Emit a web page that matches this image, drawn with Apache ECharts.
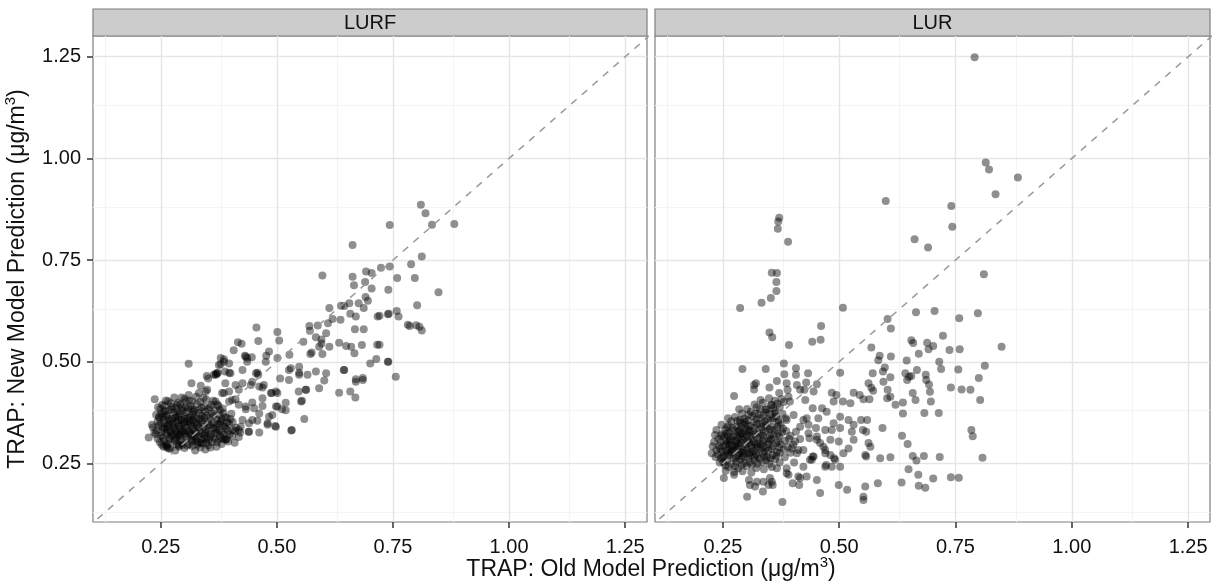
<!DOCTYPE html>
<html>
<head>
<meta charset="utf-8">
<title>TRAP: Old vs New Model Prediction</title>
<script src="https://cdn.jsdelivr.net/npm/echarts@6/dist/echarts.min.js"></script>
<style>
  html, body { margin: 0; padding: 0; background: #fff; }
  #chart { width: 1212px; height: 587px; }
</style>
</head>
<body>
<div id="chart"></div>
<script>
// Facet names, left to right
const panelNames = ['LURF', 'LUR'];

// Axis breaks (shared by x and y) and minor grid positions
const tickValues = [0.25, 0.50, 0.75, 1.00, 1.25];
const minorValues = [0.125, 0.375, 0.625, 0.875, 1.125];

// Common limits of both panels
const xRange = [0.104, 1.297];
const yRange = [0.106, 1.301];

// LURF: [old model prediction, new model prediction]
const lurfPoints = [
  [0.810,0.886],[0.820,0.865],[0.743,0.836],[0.834,0.837],[0.882,0.839],[0.812,0.759],[0.789,0.740],[0.724,0.731],
  [0.743,0.734],[0.759,0.706],[0.797,0.706],[0.740,0.677],[0.848,0.671],[0.802,0.639],[0.741,0.618],[0.758,0.625],
  [0.762,0.611],[0.721,0.613],[0.782,0.591],[0.786,0.588],[0.800,0.590],[0.807,0.586],[0.812,0.577],[0.721,0.542],
  [0.740,0.500],[0.756,0.463],[0.663,0.787],[0.598,0.712],[0.692,0.722],[0.704,0.718],[0.663,0.709],[0.666,0.688],
  [0.690,0.696],[0.704,0.680],[0.691,0.659],[0.696,0.650],[0.676,0.644],[0.645,0.637],[0.656,0.644],[0.638,0.638],
  [0.613,0.632],[0.687,0.632],[0.658,0.618],[0.670,0.611],[0.717,0.611],[0.739,0.617],[0.620,0.605],[0.637,0.603],
  [0.610,0.595],[0.570,0.588],[0.588,0.589],[0.668,0.580],[0.687,0.580],[0.571,0.576],[0.606,0.570],[0.584,0.560],
  [0.596,0.555],[0.596,0.545],[0.613,0.537],[0.591,0.537],[0.557,0.549],[0.634,0.547],[0.649,0.539],[0.660,0.537],
  [0.683,0.541],[0.716,0.542],[0.667,0.521],[0.598,0.519],[0.572,0.519],[0.575,0.523],[0.701,0.496],[0.714,0.507],
  [0.645,0.480],[0.739,0.500],[0.527,0.517],[0.501,0.573],[0.505,0.552],[0.456,0.584],[0.460,0.551],[0.416,0.548],
  [0.424,0.544],[0.407,0.528],[0.483,0.525],[0.477,0.515],[0.431,0.515],[0.436,0.509],[0.446,0.511],[0.501,0.509],
  [0.386,0.506],[0.379,0.494],[0.397,0.496],[0.310,0.495],[0.372,0.473],[0.388,0.476],[0.426,0.480],[0.458,0.473],
  [0.476,0.500],[0.526,0.480],[0.548,0.473],[0.584,0.476],[0.606,0.472],[0.685,0.460],[0.670,0.457],[0.349,0.465],
  [0.368,0.470],[0.316,0.447],[0.336,0.441],[0.352,0.459],[0.369,0.468],[0.400,0.472],[0.389,0.447],[0.411,0.443],
  [0.426,0.447],[0.444,0.443],[0.460,0.468],[0.469,0.437],[0.489,0.423],[0.501,0.423],[0.507,0.459],[0.526,0.455],
  [0.530,0.484],[0.548,0.488],[0.548,0.468],[0.566,0.468],[0.563,0.431],[0.547,0.427],[0.602,0.454],[0.591,0.435],
  [0.644,0.480],[0.670,0.451],[0.685,0.455],[0.634,0.424],[0.658,0.427],[0.669,0.412],[0.552,0.402],[0.559,0.359],
  [0.531,0.331],[0.519,0.399],[0.511,0.383],[0.498,0.390],[0.490,0.369],[0.496,0.342],[0.480,0.345],[0.458,0.355],
  [0.447,0.357],[0.469,0.391],[0.447,0.400],[0.433,0.383],[0.462,0.373],[0.439,0.328],[0.422,0.340],[0.400,0.359],
  [0.405,0.332],[0.388,0.309],[0.375,0.309],[0.237,0.408],[0.224,0.314],[0.233,0.339],[0.264,0.289],[0.296,0.296],
  [0.332,0.300],[0.354,0.309],[0.318,0.304],[0.411,0.408],[0.397,0.402],[0.382,0.423],[0.368,0.402],[0.350,0.431],
  [0.332,0.423],[0.310,0.418],[0.303,0.402],[0.285,0.394],[0.271,0.398],[0.253,0.394],[0.246,0.365],[0.256,0.377],
  [0.379,0.509],[0.386,0.500],[0.433,0.513],[0.436,0.500],[0.375,0.492],[0.397,0.473],[0.364,0.468],[0.372,0.472],
  [0.347,0.427],[0.386,0.423],[0.397,0.427],[0.418,0.431],[0.447,0.451],[0.462,0.439],[0.472,0.443],[0.455,0.472],
  [0.487,0.423],[0.498,0.427],[0.469,0.410],[0.433,0.390],[0.451,0.386],[0.418,0.394],[0.404,0.406],[0.426,0.357],
  [0.440,0.349],[0.480,0.349],[0.498,0.340],[0.483,0.365],[0.501,0.390],[0.519,0.381],[0.418,0.332],[0.440,0.328],
  [0.462,0.326],[0.532,0.332],[0.554,0.404],[0.562,0.431],[0.390,0.308],[0.336,0.300],[0.289,0.295],[0.267,0.287],
  [0.256,0.291],
  [0.262,0.292],[0.271,0.286],[0.289,0.291],[0.301,0.288],[0.318,0.293],[0.335,0.289],[0.352,0.295],[0.370,0.291],
  [0.248,0.302],[0.265,0.298],[0.279,0.304],[0.296,0.301],[0.312,0.297],[0.327,0.305],[0.341,0.299],[0.360,0.303],
  [0.381,0.298],[0.395,0.304],[0.243,0.311],[0.255,0.314],[0.270,0.309],[0.284,0.313],[0.293,0.308],[0.306,0.312],
  [0.321,0.315],[0.338,0.309],[0.349,0.313],[0.366,0.311],[0.378,0.316],[0.392,0.310],[0.239,0.322],[0.251,0.318],
  [0.262,0.324],[0.276,0.321],[0.288,0.317],[0.301,0.323],[0.315,0.320],[0.326,0.325],[0.343,0.319],[0.357,0.322],
  [0.371,0.326],[0.386,0.321],[0.404,0.318],[0.241,0.331],[0.258,0.335],[0.269,0.329],[0.281,0.333],[0.292,0.336],
  [0.307,0.330],[0.319,0.334],[0.333,0.328],[0.347,0.333],[0.362,0.337],[0.376,0.331],[0.391,0.335],[0.410,0.330],
  [0.245,0.342],[0.254,0.338],[0.266,0.344],[0.278,0.341],[0.294,0.345],[0.304,0.339],[0.316,0.343],[0.329,0.347],
  [0.342,0.341],[0.353,0.344],[0.368,0.339],[0.384,0.343],[0.397,0.347],[0.243,0.353],[0.259,0.349],[0.272,0.355],
  [0.285,0.351],[0.299,0.348],[0.311,0.354],[0.324,0.350],[0.337,0.356],[0.351,0.352],[0.364,0.348],[0.379,0.354],
  [0.393,0.351],[0.247,0.362],[0.262,0.366],[0.275,0.360],[0.288,0.364],[0.302,0.359],[0.313,0.365],[0.327,0.361],
  [0.339,0.367],[0.356,0.363],[0.371,0.358],[0.388,0.364],[0.251,0.373],[0.264,0.369],[0.279,0.375],[0.291,0.371],
  [0.305,0.376],[0.318,0.370],[0.333,0.374],[0.346,0.378],[0.361,0.372],[0.376,0.369],[0.249,0.384],[0.268,0.381],
  [0.283,0.386],[0.297,0.380],[0.309,0.385],[0.322,0.382],[0.338,0.387],[0.352,0.383],[0.367,0.379],[0.383,0.385],
  [0.258,0.392],[0.274,0.389],[0.292,0.395],[0.314,0.391],[0.328,0.396],[0.343,0.390],[0.359,0.394],[0.374,0.391],
  [0.266,0.403],[0.287,0.399],[0.311,0.405],[0.335,0.401],[0.348,0.407],[0.363,0.404],[0.279,0.412],[0.301,0.409],
  [0.326,0.414],[0.342,0.411],[0.272,0.318],[0.283,0.327],[0.297,0.331],[0.309,0.346],[0.287,0.356],[0.268,0.349],
  [0.301,0.366],[0.318,0.357],[0.331,0.339],[0.293,0.326],[0.279,0.337],[0.264,0.333],[0.312,0.328],[0.325,0.312],
  [0.346,0.326],[0.256,0.357],[0.283,0.368],[0.296,0.385],[0.321,0.378],[0.344,0.362],
  [0.398,0.322],[0.412,0.338],[0.405,0.352],[0.418,0.315],[0.409,0.301],[0.421,0.326],[0.392,0.362],[0.402,0.372],
  [0.383,0.312],[0.371,0.302],[0.357,0.289],[0.346,0.284],[0.324,0.282],[0.281,0.282],[0.252,0.296],[0.236,0.326],
  [0.231,0.345],[0.240,0.370],[0.244,0.388],[0.261,0.405],[0.295,0.412],[0.318,0.403],[0.372,0.395],[0.385,0.374],
  [0.257,0.306],[0.268,0.313],[0.281,0.308],[0.291,0.319],[0.304,0.316],[0.317,0.309],[0.331,0.317],[0.344,0.311],
  [0.358,0.316],[0.366,0.323],[0.253,0.327],[0.271,0.326],[0.286,0.322],[0.299,0.329],[0.314,0.324],[0.322,0.331],
  [0.338,0.324],[0.353,0.329],[0.369,0.333],[0.381,0.327],[0.249,0.347],[0.263,0.341],[0.276,0.347],[0.289,0.343],
  [0.301,0.352],[0.314,0.349],[0.327,0.343],[0.341,0.349],[0.357,0.345],[0.373,0.347],[0.255,0.365],[0.268,0.359],
  [0.281,0.362],[0.295,0.357],[0.308,0.361],[0.321,0.364],[0.334,0.359],[0.348,0.368],[0.363,0.366],[0.381,0.359],
  [0.259,0.379],[0.273,0.383],[0.287,0.378],[0.302,0.389],[0.316,0.384],[0.331,0.381],[0.356,0.388],[0.377,0.381],
  [0.262,0.296],[0.284,0.297],[0.307,0.294],[0.329,0.296],[0.348,0.301],[0.388,0.341],[0.395,0.329],[0.378,0.348]
];

// LUR: [old model prediction, new model prediction]
const lurPoints = [
  [0.791,1.249],[0.815,0.990],[0.822,0.973],[0.884,0.953],[0.836,0.912],[0.600,0.895],[0.741,0.883],[0.743,0.832],
  [0.662,0.801],[0.691,0.781],[0.371,0.854],[0.369,0.845],[0.368,0.827],[0.390,0.795],[0.355,0.719],[0.366,0.718],
  [0.365,0.696],[0.365,0.674],[0.353,0.657],[0.333,0.645],[0.287,0.632],[0.508,0.633],[0.461,0.588],[0.442,0.549],
  [0.460,0.554],[0.392,0.541],[0.350,0.572],[0.356,0.560],[0.604,0.605],[0.611,0.582],[0.665,0.622],[0.705,0.625],
  [0.723,0.564],[0.655,0.553],[0.659,0.546],[0.689,0.547],[0.702,0.539],[0.692,0.531],[0.671,0.520],[0.737,0.529],
  [0.569,0.535],[0.587,0.515],[0.584,0.504],[0.611,0.513],[0.645,0.503],[0.715,0.500],[0.719,0.482],[0.667,0.480],
  [0.598,0.486],[0.594,0.476],[0.572,0.472],[0.642,0.472],[0.655,0.465],[0.686,0.468],[0.610,0.462],[0.502,0.473],
  [0.292,0.482],[0.342,0.482],[0.381,0.496],[0.407,0.484],[0.433,0.472],[0.382,0.469],[0.407,0.468],[0.811,0.715],
  [0.758,0.607],[0.798,0.619],[0.759,0.531],[0.849,0.537],[0.756,0.481],[0.813,0.490],[0.800,0.460],[0.650,0.463],
  [0.687,0.455],[0.693,0.444],[0.695,0.426],[0.740,0.437],[0.763,0.432],[0.782,0.431],[0.803,0.406],[0.658,0.423],
  [0.664,0.406],[0.697,0.402],[0.637,0.400],[0.637,0.373],[0.683,0.374],[0.714,0.374],[0.784,0.332],[0.787,0.317],
  [0.635,0.318],[0.647,0.298],[0.658,0.268],[0.666,0.257],[0.682,0.268],[0.716,0.266],[0.808,0.264],[0.649,0.236],
  [0.634,0.203],[0.670,0.222],[0.671,0.195],[0.685,0.190],[0.702,0.213],[0.740,0.216],[0.757,0.215],[0.646,0.455],
  [0.274,0.416],[0.317,0.443],[0.321,0.447],[0.350,0.437],[0.366,0.453],[0.387,0.447],[0.371,0.423],[0.389,0.431],
  [0.409,0.443],[0.416,0.431],[0.429,0.449],[0.425,0.431],[0.452,0.445],[0.445,0.427],[0.427,0.406],[0.484,0.424],
  [0.494,0.418],[0.488,0.402],[0.508,0.402],[0.524,0.398],[0.531,0.424],[0.544,0.418],[0.552,0.408],[0.565,0.408],
  [0.563,0.447],[0.569,0.436],[0.573,0.429],[0.595,0.451],[0.604,0.431],[0.603,0.410],[0.610,0.414],[0.621,0.394],
  [0.473,0.377],[0.455,0.361],[0.443,0.386],[0.430,0.361],[0.423,0.357],[0.434,0.345],[0.450,0.337],[0.470,0.332],
  [0.484,0.332],[0.488,0.349],[0.502,0.365],[0.502,0.337],[0.520,0.357],[0.531,0.345],[0.527,0.328],[0.547,0.357],
  [0.551,0.332],[0.560,0.357],[0.558,0.328],[0.531,0.308],[0.567,0.291],[0.563,0.300],[0.593,0.337],[0.588,0.263],
  [0.610,0.265],[0.556,0.271],[0.558,0.267],[0.509,0.275],[0.520,0.287],[0.499,0.304],[0.481,0.308],[0.466,0.291],
  [0.452,0.308],[0.470,0.275],[0.489,0.263],[0.470,0.242],[0.484,0.242],[0.502,0.242],[0.445,0.267],[0.441,0.259],
  [0.423,0.242],[0.403,0.252],[0.409,0.275],[0.452,0.209],[0.430,0.218],[0.412,0.218],[0.400,0.201],[0.414,0.197],
  [0.387,0.238],[0.387,0.226],[0.366,0.238],[0.351,0.214],[0.357,0.197],[0.348,0.197],[0.337,0.205],[0.323,0.205],
  [0.308,0.197],[0.306,0.209],[0.302,0.168],[0.336,0.181],[0.378,0.155],[0.252,0.214],[0.274,0.222],[0.226,0.275],
  [0.459,0.177],[0.499,0.197],[0.517,0.185],[0.552,0.168],[0.552,0.160],[0.556,0.193],[0.583,0.201],[0.317,0.432],
  [0.376,0.408],[0.391,0.414],[0.394,0.402],[0.355,0.394],[0.344,0.383],[0.330,0.383],[0.285,0.383],[0.305,0.369],
  [0.287,0.357],[0.261,0.361],[0.247,0.345],[0.236,0.332],[0.233,0.320],[0.319,0.193],[0.355,0.205],[0.391,0.222],
  [0.416,0.214],[0.437,0.259],[0.443,0.267],[0.423,0.283],[0.412,0.283],[0.405,0.304],[0.416,0.310],[0.398,0.287],
  [0.407,0.328],[0.416,0.340],[0.387,0.357],[0.402,0.369],[0.369,0.357],[0.362,0.373],[0.463,0.386],[0.452,0.316],
  [0.459,0.300],[0.470,0.283],[0.481,0.271],[0.434,0.324],[0.436,0.312],[0.491,0.259],[0.472,0.246],
  [0.262,0.241],[0.283,0.238],[0.301,0.244],[0.322,0.239],[0.251,0.252],[0.268,0.248],[0.279,0.254],[0.296,0.251],
  [0.312,0.247],[0.334,0.253],[0.350,0.249],[0.246,0.262],[0.259,0.258],[0.273,0.264],[0.287,0.259],[0.304,0.263],
  [0.318,0.257],[0.329,0.262],[0.345,0.266],[0.362,0.260],[0.239,0.272],[0.252,0.268],[0.266,0.274],[0.281,0.270],
  [0.293,0.275],[0.308,0.269],[0.321,0.273],[0.339,0.267],[0.357,0.271],[0.372,0.276],[0.236,0.283],[0.248,0.279],
  [0.262,0.285],[0.275,0.281],[0.290,0.278],[0.302,0.284],[0.315,0.280],[0.331,0.286],[0.348,0.282],[0.366,0.278],
  [0.381,0.284],[0.242,0.292],[0.257,0.296],[0.269,0.290],[0.284,0.294],[0.297,0.289],[0.311,0.295],[0.326,0.291],
  [0.343,0.288],[0.358,0.293],[0.374,0.297],[0.389,0.291],[0.245,0.303],[0.261,0.299],[0.276,0.305],[0.289,0.301],
  [0.304,0.306],[0.317,0.302],[0.332,0.298],[0.349,0.304],[0.365,0.300],[0.383,0.306],[0.240,0.311],[0.253,0.315],
  [0.267,0.309],[0.282,0.313],[0.295,0.316],[0.309,0.310],[0.323,0.314],[0.338,0.308],[0.354,0.312],[0.371,0.317],
  [0.392,0.311],[0.248,0.322],[0.263,0.326],[0.278,0.320],[0.291,0.324],[0.306,0.328],[0.319,0.321],[0.334,0.325],
  [0.351,0.319],[0.368,0.323],[0.255,0.333],[0.271,0.337],[0.286,0.331],[0.299,0.335],[0.314,0.329],[0.328,0.334],
  [0.345,0.338],[0.361,0.332],[0.379,0.336],[0.262,0.344],[0.279,0.340],[0.294,0.346],[0.309,0.342],[0.324,0.347],
  [0.341,0.343],[0.357,0.339],[0.374,0.345],[0.268,0.354],[0.287,0.350],[0.303,0.356],[0.318,0.352],[0.335,0.348],
  [0.352,0.355],[0.369,0.351],[0.276,0.364],[0.296,0.360],[0.313,0.366],[0.331,0.362],[0.347,0.358],[0.364,0.365],
  [0.385,0.361],[0.291,0.373],[0.310,0.377],[0.327,0.371],[0.344,0.375],[0.362,0.379],[0.378,0.372],[0.302,0.384],
  [0.323,0.388],[0.341,0.382],[0.358,0.386],[0.372,0.389],[0.318,0.395],[0.336,0.399],[0.353,0.393],[0.367,0.397],
  [0.381,0.401],[0.331,0.406],[0.349,0.410],[0.362,0.404],[0.271,0.283],[0.285,0.276],[0.298,0.298],[0.312,0.288],
  [0.279,0.302],[0.266,0.296],[0.302,0.318],[0.289,0.312],[0.325,0.303],[0.257,0.305],[0.318,0.266],[0.294,0.265],
  [0.276,0.292],[0.336,0.318],[0.305,0.332],[0.284,0.329],[0.262,0.316],[0.348,0.297],[0.339,0.279],[0.259,0.276],
  [0.256,0.232],[0.274,0.229],[0.292,0.231],[0.311,0.228],[0.338,0.236],[0.355,0.241],[0.372,0.252],[0.383,0.265],
  [0.395,0.276],[0.401,0.296],[0.395,0.318],[0.386,0.330],[0.228,0.292],[0.231,0.303],[0.234,0.266],[0.243,0.252],
  [0.255,0.245],[0.276,0.243],[0.291,0.247],[0.308,0.252],[0.325,0.249],[0.343,0.257],[0.249,0.265],[0.263,0.269],
  [0.278,0.263],[0.291,0.268],[0.306,0.274],[0.324,0.268],[0.336,0.274],[0.352,0.263],[0.365,0.269],[0.244,0.286],
  [0.256,0.281],[0.268,0.279],[0.282,0.287],[0.295,0.281],[0.309,0.277],[0.322,0.285],[0.337,0.291],[0.355,0.286],
  [0.371,0.289],[0.251,0.294],[0.264,0.306],[0.281,0.297],[0.293,0.307],[0.307,0.301],[0.321,0.297],[0.336,0.305],
  [0.352,0.309],[0.368,0.306],[0.246,0.318],[0.258,0.323],[0.272,0.316],[0.287,0.321],[0.299,0.325],[0.313,0.319],
  [0.328,0.322],[0.343,0.327],[0.359,0.321],[0.377,0.326],[0.259,0.339],[0.273,0.331],[0.289,0.339],[0.303,0.343],
  [0.318,0.338],[0.333,0.341],[0.351,0.334],[0.367,0.341],[0.281,0.355],[0.298,0.352],[0.322,0.358],[0.341,0.353],
  [0.358,0.362],[0.319,0.372],[0.337,0.367],[0.352,0.371]
];

// Reference line y = x
const identityLine = [[0, 0], [1.4, 1.4]];

const panelData = [lurfPoints, lurPoints];
const FONT = '"Liberation Sans", Arial, Helvetica, sans-serif';

const chart = echarts.init(document.getElementById('chart'), null, { renderer: 'canvas' });

const grids = [
  { left: 93, top: 36, width: 554, height: 486 },
  { left: 655, top: 36, width: 555, height: 486 }
];

const majorStyle = { color: '#E5E5E5', width: 1.4, type: 'solid' };
const minorStyle = { color: '#F4F4F4', width: 1, type: 'solid' };

function gridLines() {
  const lines = [];
  minorValues.forEach(v => {
    lines.push({ xAxis: v, lineStyle: minorStyle });
    lines.push({ yAxis: v, lineStyle: minorStyle });
  });
  tickValues.forEach(v => {
    lines.push({ xAxis: v, lineStyle: majorStyle });
    lines.push({ yAxis: v, lineStyle: majorStyle });
  });
  return lines;
}

const xAxes = grids.map((g, i) => ({
  type: 'value', gridIndex: i, min: xRange[0], max: xRange[1],
  splitLine: { show: false },
  axisLine: { show: false },
  axisTick: { show: true, length: 6, lineStyle: { color: '#333', width: 1.5 }, customValues: tickValues },
  axisLabel: {
    customValues: tickValues, margin: 15, color: '#111', fontSize: 20, fontFamily: FONT,
    formatter: v => v.toFixed(2)
  }
}));

const yAxes = grids.map((g, i) => ({
  type: 'value', gridIndex: i, min: yRange[0], max: yRange[1],
  splitLine: { show: false },
  axisLine: { show: false },
  axisTick: { show: i === 0, length: 6, lineStyle: { color: '#333', width: 1.5 }, customValues: tickValues },
  axisLabel: {
    show: i === 0, customValues: tickValues, margin: 12, color: '#111', fontSize: 20, fontFamily: FONT,
    formatter: v => v.toFixed(2)
  }
}));

const series = [];
panelData.forEach((pts, i) => {
  // background grid, kept beneath the points
  series.push({
    type: 'scatter', xAxisIndex: i, yAxisIndex: i, data: [], z: 1, silent: true,
    markLine: { z: 1, silent: true, symbol: ['none', 'none'], label: { show: false }, animation: false, data: gridLines() }
  });
  series.push({
    name: panelNames[i], type: 'scatter', xAxisIndex: i, yAxisIndex: i, data: pts, z: 3,
    symbol: 'circle', symbolSize: 8, silent: true,
    itemStyle: { color: 'rgba(0,0,0,0.55)', borderWidth: 0 }
  });
  series.push({
    type: 'line', xAxisIndex: i, yAxisIndex: i, data: identityLine, z: 4, silent: true,
    symbol: 'none', clip: true,
    lineStyle: { color: '#999999', width: 1.5, type: [7, 7] }
  });
});

// Facet strips
const strips = grids.map((g, i) => ({
  type: 'group',
  children: [
    { type: 'rect', shape: { x: g.left, y: 9, width: g.width, height: 27 },
      style: { fill: '#CCCCCC', stroke: '#7F7F7F', lineWidth: 1.2 } },
    { type: 'text', x: g.left + g.width / 2, y: 23,
      style: { text: panelNames[i], fill: '#111', fontSize: 20, fontFamily: FONT, align: 'center', verticalAlign: 'middle' } }
  ]
}));

const supRich = { sup: { fontSize: 15, fontFamily: FONT, fill: '#111', verticalAlign: 'top', lineHeight: 16 } };

chart.setOption({
  animation: false,
  backgroundColor: '#ffffff',
  grid: grids.map(g => Object.assign({ show: true, borderColor: '#7F7F7F', borderWidth: 1.2, backgroundColor: '#fff' }, g)),
  xAxis: xAxes,
  yAxis: yAxes,
  series: series,
  graphic: strips.concat([
    { type: 'text', x: 651, y: 570,
      style: { text: 'TRAP: Old Model Prediction (μg/m{sup|3})', rich: supRich, fill: '#111', fontSize: 23,
               fontFamily: FONT, lineHeight: 30, align: 'center', verticalAlign: 'middle' } },
    { type: 'text', x: 18, y: 279, rotation: Math.PI / 2,
      style: { text: 'TRAP: New Model Prediction (μg/m{sup|3})', rich: supRich, fill: '#111', fontSize: 23,
               fontFamily: FONT, lineHeight: 30, align: 'center', verticalAlign: 'middle' } }
  ])
});
</script>
</body>
</html>
